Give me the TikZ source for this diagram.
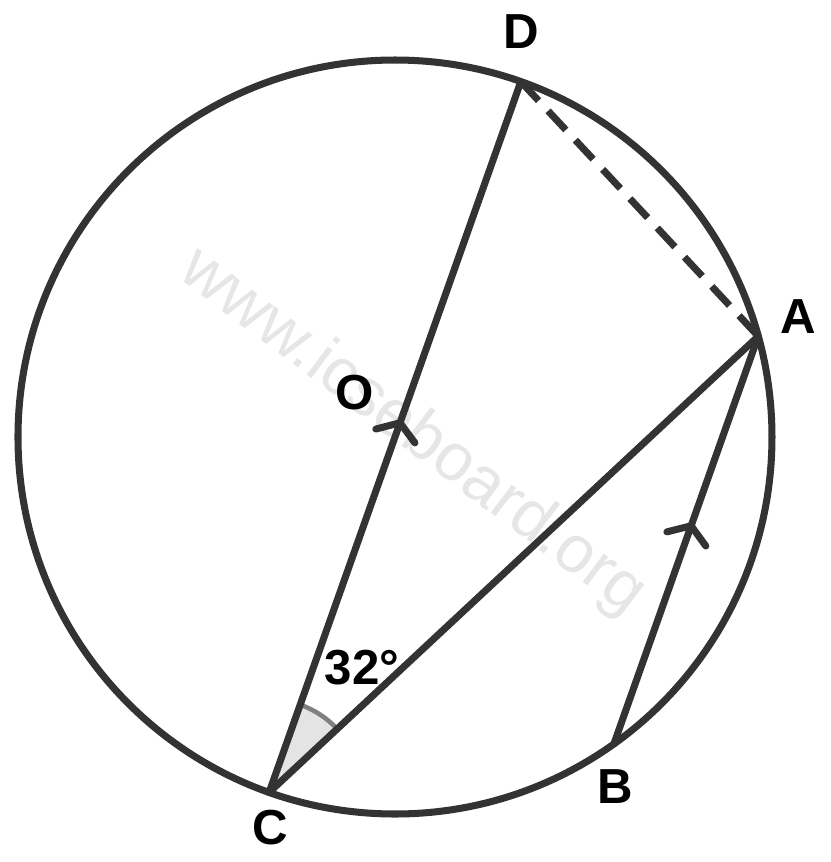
\documentclass[tikz,border=0pt]{standalone}
\usepackage{fontspec}
\setmainfont{Liberation Sans}
\definecolor{ink}{HTML}{333333}
\definecolor{wmark}{HTML}{E6E6E6}
\definecolor{anglegray}{HTML}{E4E4E4}

\begin{document}
\begin{tikzpicture}[line width=2pt, line cap=round, draw=ink,
		lbl/.style={text=black, font=\fontsize{14}{16}\selectfont\bfseries}]
			\useasboundingbox (-3.95,-4.25) rectangle (4.35,4.37);
			\coordinate (O) at (0,0);
			\coordinate (D) at (70.5:3.77);
			\coordinate (C) at (250.5:3.77);
			\coordinate (A) at (15.5:3.77);
			\coordinate (B) at (-54.5:3.77);
			\node[rotate=-37, text=wmark, font=\fontsize{19}{22}\selectfont] (site) at (0.17,0.05) {www.icseboard.org};
			\fill[anglegray] (C) -- ++(43:0.93) arc[start angle=43, end angle=70.5, radius=0.93] -- cycle;
			\draw[gray, line width=1.3pt] (C) ++(43:0.93) arc[start angle=43, end angle=70.5, radius=0.93];
			\draw (O) circle (3.77);
			\draw (C) -- coordinate[pos=0.52] (mDC) (D);
			\draw (C) -- (A);
			\draw (B) -- coordinate[pos=0.535] (mAB) (A);
			\draw[dash pattern=on 0.26cm off 0.14cm, line cap=butt] (D) -- (A);
			\draw (mDC) ++(194.5:0.25) -- (mDC) -- ++(306.5:0.25);
			\draw (mAB) ++(194:0.25) -- (mAB) -- ++(306:0.25);
			\node[lbl] (labD) at (1.26,4.05) {D};
			\node[lbl] (labA) at (4.03,1.20) {A};
			\node[lbl] (labB) at (2.20,-3.50) {B};
			\node[lbl] (labC) at (-1.25,-3.91) {C};
			\node[lbl] (labO) at (-0.40,0.44) {O};
			\node[lbl] (ang) at (-0.33,-2.31) {32°};
		\end{tikzpicture}
\end{document}
